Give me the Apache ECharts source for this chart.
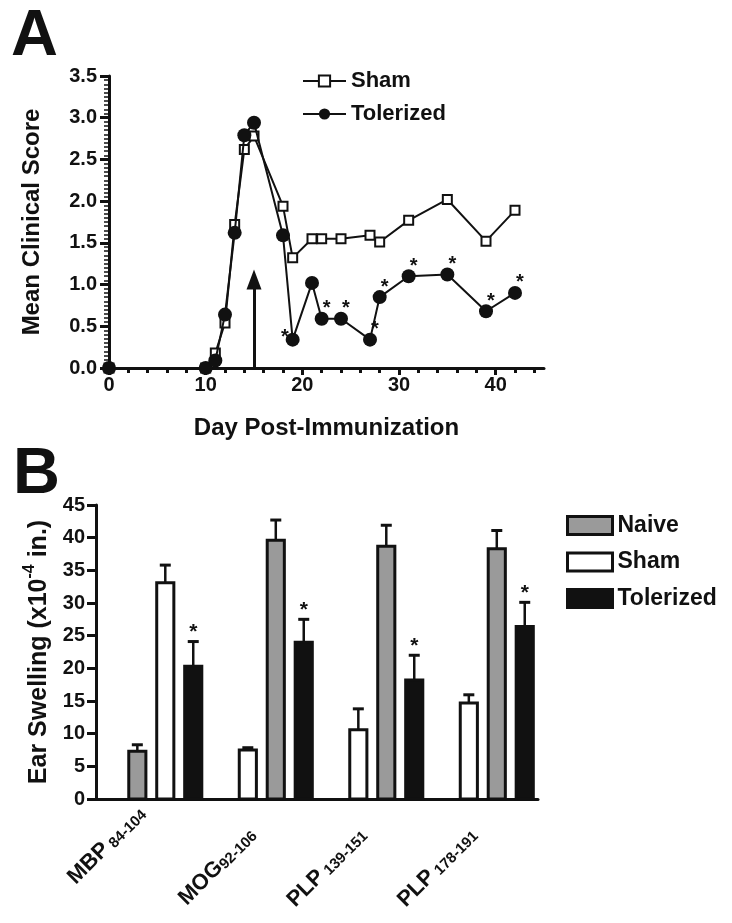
<!DOCTYPE html>
<html><head><meta charset="utf-8">
<script src="https://cdn.jsdelivr.net/npm/echarts@6/dist/echarts.min.js"></script>
<style>html,body{margin:0;padding:0;background:#fff}#c{width:732px;height:923px}</style>
</head><body><div id="c"></div>
<script>
// ---------- Panel A data ----------
const days = [0, 10, 11, 12, 13, 14, 15, 18, 19, 21, 22, 24, 27, 28, 31, 35, 39, 42];
const shamScore = [0, 0, 0.18, 0.54, 1.72, 2.62, 2.78, 1.94, 1.32, 1.55, 1.55, 1.55, 1.59, 1.51, 1.77, 2.02, 1.52, 1.89];
const tolScore  = [0, 0, 0.09, 0.64, 1.62, 2.79, 2.94, 1.59, 0.34, 1.02, 0.59, 0.59, 0.34, 0.85, 1.10, 1.12, 0.68, 0.90];
const tolSignificant = [0, 0, 0, 0, 0, 0, 0, 0, 1, 0, 1, 1, 1, 1, 1, 1, 1, 1];
const xTickLabelsA = [0, 10, 20, 30, 40];
const xMinorTicksA = [0, 2, 4, 6, 8, 10, 12, 14, 16, 18, 20, 22, 24, 26, 28, 30, 32, 34, 36, 38, 40, 42, 44];
const arrowDay = 15;
const arrowTop = 1.06;

// ---------- Panel B data ----------
const peptides   = ['MBP', 'MOG', 'PLP', 'PLP'];
const peptideSub = [' 84-104', '92-106', ' 139-151', ' 178-191'];
const naiveSwell = [7.3, 39.6, 38.7, 38.3];
const naiveErr   = [1.0, 3.1, 3.2, 2.8];
const shamSwell  = [33.1, 7.5, 10.6, 14.7];
const shamErr    = [2.7, 0.35, 3.2, 1.25];
const tolSwell   = [20.3, 24.0, 18.2, 26.4];
const tolErr     = [3.8, 3.5, 3.8, 3.7];
const tolSigB    = [1, 1, 1, 1];
const groupOrder = [
  ['Naive', 'Sham', 'Tolerized'],
  ['Sham', 'Naive', 'Tolerized'],
  ['Sham', 'Naive', 'Tolerized'],
  ['Sham', 'Naive', 'Tolerized']
];

const FONT = "'Liberation Sans', Arial, sans-serif";
const INK = '#111';
const GRAY = '#9a9a9a';

const chart = echarts.init(document.getElementById('c'), null, {renderer: 'canvas'});

function barSeries(name, vals, errs, fill, sig) {
  return {
    type: 'custom', name: name, xAxisIndex: 2, yAxisIndex: 1, clip: false, z: 3,
    itemStyle: {color: fill, borderColor: INK, borderWidth: 3},
    data: vals.map((v, i) => [i, v, errs[i], sig ? sig[i] : 0]),
    renderItem: function (params, api) {
      const ci = api.value(0), v = api.value(1), e = api.value(2), s = api.value(3);
      const slot = groupOrder[ci].indexOf(name);
      const band = api.size([1, 0])[0];
      const p0 = api.coord([ci, 0]);
      const p1 = api.coord([ci, v]);
      const p2 = api.coord([ci, v + e]);
      const cx = p0[0] + band * 0.127 + (slot - 1) * band * 0.253;
      const w = band * 0.155;
      const children = [
        {type: 'line', shape: {x1: cx, y1: p1[1], x2: cx, y2: p2[1]}, style: {stroke: INK, lineWidth: 2.5}},
        {type: 'line', shape: {x1: cx - 5.5, y1: p2[1], x2: cx + 5.5, y2: p2[1]}, style: {stroke: INK, lineWidth: 3}},
        {type: 'rect', shape: {x: cx - w / 2, y: p1[1], width: w, height: p0[1] - p1[1]}, style: {fill: fill, stroke: INK, lineWidth: 3}}
      ];
      if (s) {
        children.push({type: 'text', x: cx, y: p2[1] - 9, style: {text: '*', fontSize: 21, fontWeight: 'bold', fontFamily: FONT, fill: INK, align: 'center', verticalAlign: 'middle'}});
      }
      return {type: 'group', children: children};
    }
  };
}

const tickFont = {color: INK, fontSize: 20, fontWeight: 'bold', fontFamily: FONT};
const nameFont = {color: INK, fontSize: 24, fontWeight: 'bold', fontFamily: FONT};

const option = {
  animation: false,
  textStyle: {fontFamily: FONT},
  grid: [
    {left: 109, top: 76, width: 435, height: 292},
    {left: 96, top: 505, width: 442, height: 294}
  ],
  xAxis: [
    {
      gridIndex: 0, type: 'value', min: 0, max: 45, interval: 10, position: 'bottom',
      axisLine: {show: true, lineStyle: {color: INK, width: 3}},
      axisTick: {show: true, customValues: xMinorTicksA, length: 5, lineStyle: {color: INK, width: 3}},
      axisLabel: Object.assign({customValues: xTickLabelsA, margin: 7}, tickFont),
      splitLine: {show: false},
      name: 'Day Post-Immunization', nameLocation: 'middle', nameGap: 48, nameTextStyle: nameFont
    },
    {
      gridIndex: 0, type: 'value', min: 0, max: 45, interval: 10, position: 'bottom',
      axisLine: {show: false},
      axisTick: {show: true, customValues: xTickLabelsA, length: 7, lineStyle: {color: INK, width: 3}},
      axisLabel: {show: false}, splitLine: {show: false}
    },
    {
      gridIndex: 1, type: 'category', position: 'bottom',
      data: peptides.map((p, i) => p + peptideSub[i]),
      axisLine: {show: true, lineStyle: {color: INK, width: 3}},
      axisTick: {show: false},
      axisLabel: {
        interval: 0, rotate: 45, margin: 19,
        formatter: function (v, i) {
          if (i === 0) return '{m|' + peptides[i] + '}{s0|' + peptideSub[i] + '}\n{gap| }';
          return '{m|' + peptides[i] + '}{s|' + peptideSub[i] + '}';
        },
        rich: {
          m: {fontSize: 22, fontWeight: 'bold', color: INK, fontFamily: FONT, lineHeight: 28, verticalAlign: 'bottom'},
          s: {fontSize: 15, fontWeight: 'bold', color: INK, fontFamily: FONT, lineHeight: 12, verticalAlign: 'bottom', padding: [0, 16, 0, 0]},
          s0: {fontSize: 15, fontWeight: 'bold', color: INK, fontFamily: FONT, lineHeight: 12, verticalAlign: 'bottom', padding: [0, 1, 0, 0]},
          gap: {fontSize: 10, lineHeight: 30}
        }
      }
    }
  ],
  yAxis: [
    {
      gridIndex: 0, type: 'value', min: 0, max: 3.5, interval: 0.5,
      axisLine: {show: true, lineStyle: {color: INK, width: 3}},
      axisTick: {show: true, length: 9, lineStyle: {color: INK, width: 3}},
      minorTick: {show: true, splitNumber: 10, length: 5, lineStyle: {color: INK, width: 1.5}},
      axisLabel: Object.assign({margin: 12, formatter: v => v.toFixed(1)}, tickFont),
      splitLine: {show: false},
      name: 'Mean Clinical Score', nameLocation: 'middle', nameGap: 65, nameTextStyle: nameFont
    },
    {
      gridIndex: 1, type: 'value', min: 0, max: 45, interval: 5,
      axisLine: {show: true, lineStyle: {color: INK, width: 3}},
      axisTick: {show: true, length: 9, lineStyle: {color: INK, width: 3}},
      axisLabel: Object.assign({margin: 11}, tickFont),
      splitLine: {show: false},
      name: '{a|Ear Swelling (x10}{b|-4}{a| in.)}', nameLocation: 'middle', nameGap: 42,
      nameTextStyle: {
        rich: {
          a: {fontSize: 25, fontWeight: 'bold', color: INK, fontFamily: FONT, lineHeight: 30, verticalAlign: 'bottom'},
          b: {fontSize: 16, fontWeight: 'bold', color: INK, fontFamily: FONT, lineHeight: 30, verticalAlign: 'top'}
        }
      }
    }
  ],
  legend: [
    {
      data: ['Sham', 'Tolerized'], left: 302, top: 70, orient: 'vertical', padding: 0,
      itemWidth: 43, itemHeight: 14, itemGap: 11, selectedMode: false,
      textStyle: {color: INK, fontSize: 22, fontWeight: 'bold', fontFamily: FONT}
    },
    {
      data: [
        {name: 'Naive', icon: 'rect', itemStyle: {color: GRAY, borderColor: INK, borderWidth: 3}},
        {name: 'Sham', icon: 'rect', itemStyle: {color: '#fff', borderColor: INK, borderWidth: 3}},
        {name: 'Tolerized', icon: 'rect', itemStyle: {color: INK, borderColor: INK, borderWidth: 3}}
      ],
      left: 566, top: 514, orient: 'vertical', padding: 0,
      itemWidth: 45, itemHeight: 18, itemGap: 13.5, selectedMode: false,
      textStyle: {color: INK, fontSize: 23, fontWeight: 'bold', fontFamily: FONT}
    }
  ],
  graphic: [
    {type: 'text', left: 11, top: 5, style: {text: 'A', font: 'bold 65px ' + FONT, fill: INK}},
    {type: 'text', left: 13, top: 443, style: {text: 'B', font: 'bold 65px ' + FONT, fill: INK}}
  ],
  series: [
    {
      name: 'Sham', type: 'line', xAxisIndex: 0, yAxisIndex: 0, z: 2,
      data: days.map((d, i) => [d, shamScore[i]]),
      symbol: 'rect', symbolSize: 9,
      itemStyle: {color: '#fff', borderColor: INK, borderWidth: 2},
      lineStyle: {color: INK, width: 2},
      emphasis: {disabled: true},
      markLine: {
        silent: true, symbol: ['none', 'triangle'], symbolSize: [15, 20],
        lineStyle: {color: INK, width: 3, type: 'solid'}, label: {show: false},
        data: [[{coord: [arrowDay, 0]}, {coord: [arrowDay, arrowTop]}]]
      }
    },
    {
      name: 'Tolerized', type: 'line', xAxisIndex: 0, yAxisIndex: 0, z: 3,
      data: days.map((d, i) => {
        const item = {value: [d, tolScore[i]]};
        if (tolSignificant[i]) {
          item.label = {
            show: true, formatter: '*', color: INK, fontSize: 20, fontWeight: 'bold', fontFamily: FONT,
            position: d === 19 ? 'left' : 'top', distance: 0,
            offset: d === 19 ? [3, -2] : [5, 7]
          };
        }
        return item;
      }),
      symbol: 'circle', symbolSize: 14,
      itemStyle: {color: INK},
      lineStyle: {color: INK, width: 2},
      emphasis: {disabled: true}
    },
    barSeries('Naive', naiveSwell, naiveErr, GRAY, null),
    barSeries('Sham', shamSwell, shamErr, '#fff', null),
    barSeries('Tolerized', tolSwell, tolErr, INK, tolSigB)
  ]
};
chart.setOption(option);
</script>
</body></html>
